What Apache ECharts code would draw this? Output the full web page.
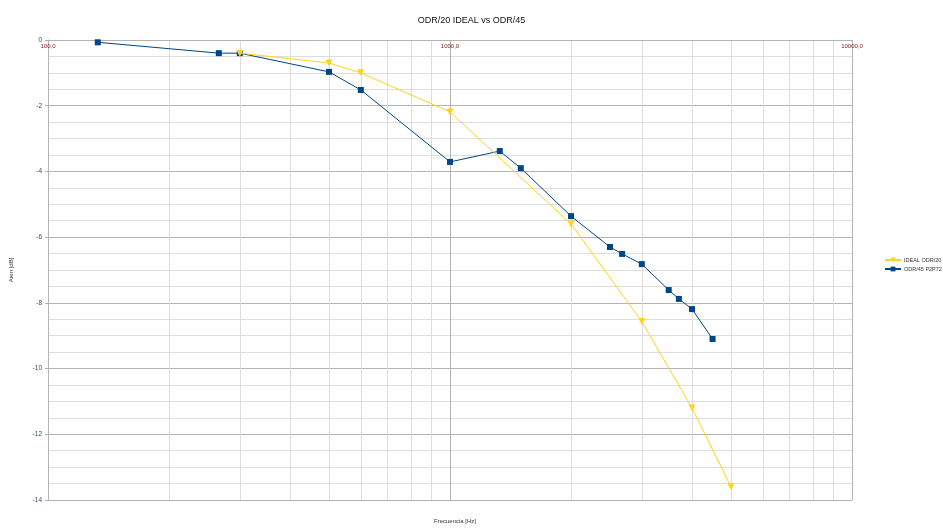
<!DOCTYPE html>
<html>
<head>
<meta charset="utf-8">
<script src="https://cdn.jsdelivr.net/npm/echarts@6/dist/echarts.min.js"></script>
<style>html,body{margin:0;padding:0;background:#fff}#c{width:943px;height:530px}</style>
</head>
<body>
<div id="c"></div>
<script>
const chartTitle = 'ODR/20 IDEAL vs ODR/45';
const seriesNames = ['IDEAL ODR/20', 'ODR/45 P2P72'];
const freqIdeal = [300, 500, 600, 1000, 2000, 3000, 4000, 5000];
const attIdeal = [-0.4, -0.7, -1.0, -2.19, -5.6, -8.57, -11.2, -13.6];
const freqOdr = [133, 266, 300, 500, 600, 1000, 1330, 1500, 2000, 2500, 2680, 3000, 3500, 3710, 4000, 4500];
const attOdr = [-0.07, -0.4, -0.4, -0.97, -1.52, -3.71, -3.38, -3.9, -5.36, -6.3, -6.51, -6.82, -7.61, -7.88, -8.19, -9.1];
const minorFreqs = [200, 300, 400, 500, 600, 700, 800, 900, 2000, 3000, 4000, 5000, 6000, 7000, 8000, 9000];

const chart = echarts.init(document.getElementById('c'), null, {renderer: 'canvas'});
const font = 'Liberation Sans, Arial, sans-serif';
chart.setOption({
  animation: false,
  backgroundColor: '#fff',
  title: [
    {text: chartTitle, left: 'center', top: 11, textStyle: {fontSize: 9, fontWeight: 'normal', color: '#111', fontFamily: font}},
    {text: 'Frecuencia [Hz]', left: 450, textAlign: 'center', top: 513, textStyle: {fontSize: 6, fontWeight: 'normal', color: '#333', fontFamily: font}}
  ],
  legend: {
    orient: 'vertical', left: 879, top: 252, itemGap: 3, itemWidth: 16, itemHeight: 6,
    textStyle: {fontSize: 5.5, color: '#333', fontFamily: font, padding: [0, 0, 0, -2]},
    data: seriesNames
  },
  grid: {left: 48, right: 91, top: 40, bottom: 30},
  xAxis: {
    type: 'log', logBase: 10, min: 100, max: 10000, position: 'top',
    axisLine: {show: true, lineStyle: {color: '#b3b3b3'}},
    axisTick: {show: false},
    axisLabel: {inside: true, margin: 3, fontSize: 6, color: '#7a1a1a', fontFamily: font,
      formatter: v => v.toFixed(1).replace('.', ',')},
    splitLine: {show: true, lineStyle: {color: '#b3b3b3', width: 1}}
  },
  yAxis: {
    type: 'value', min: -14, max: 0, interval: 2,
    name: 'Aten [dB]', nameLocation: 'middle', nameGap: 34, nameRotate: 90,
    nameTextStyle: {fontSize: 6, color: '#333', fontFamily: font},
    axisLine: {show: true, lineStyle: {color: '#b3b3b3'}},
    axisTick: {show: true, length: 3, lineStyle: {color: '#b3b3b3'}},
    axisLabel: {fontSize: 6.5, color: '#2d4c6e', margin: 6, fontFamily: font},
    splitLine: {show: true, lineStyle: {color: '#b3b3b3', width: 1}},
    minorTick: {show: false, splitNumber: 4},
    minorSplitLine: {show: true, lineStyle: {color: '#dddddd', width: 1}}
  },
  series: [
    {
      name: 'gridX', type: 'line', data: [], silent: true, z: 0, zlevel: 0,
      markLine: {
        silent: true, symbol: 'none', label: {show: false}, animation: false, z: 0,
        lineStyle: {color: '#dddddd', width: 1, type: 'solid'},
        data: minorFreqs.map(f => ({xAxis: f}))
      }
    },
    {
      name: seriesNames[0], type: 'line', z: 6,
      data: freqIdeal.map((f, i) => [f, attIdeal[i]]),
      symbol: 'triangle', symbolRotate: 180, symbolSize: 7,
      lineStyle: {color: '#ffd320', width: 1},
      itemStyle: {color: '#ffd320'}
    },
    {
      name: seriesNames[1], type: 'line', z: 5,
      data: freqOdr.map((f, i) => [f, attOdr[i]]),
      symbol: 'rect', symbolSize: 6,
      lineStyle: {color: '#004586', width: 1},
      itemStyle: {color: '#004586'}
    }
  ]
});
</script>
</body>
</html>
